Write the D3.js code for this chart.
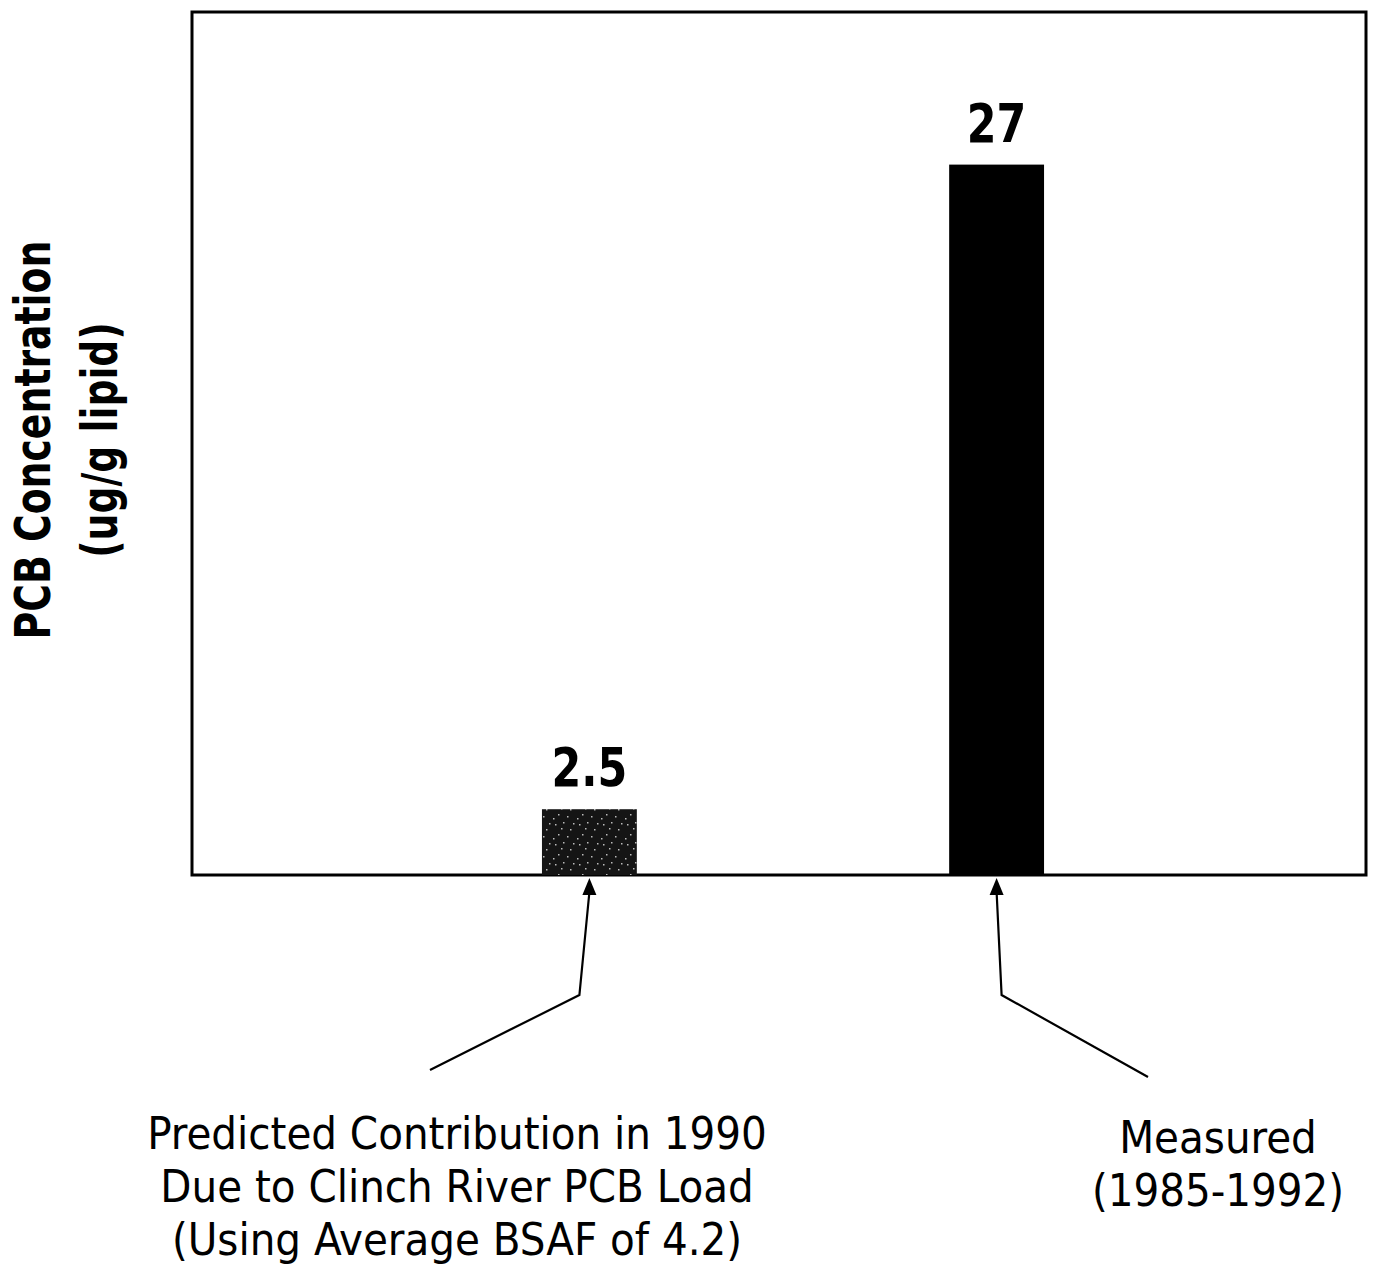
<!DOCTYPE html>
<html>
<head>
<meta charset="utf-8">
<script src="https://cdn.jsdelivr.net/npm/d3@7"></script>
<style>
  html, body { margin: 0; padding: 0; background: #fff; }
  svg { display: block; }
  .narrow { font-family: "Liberation Sans Narrow", "DejaVu Sans Condensed", "Arial Narrow", sans-serif; }
</style>
</head>
<body>
<svg id="chart" width="1381" height="1269"></svg>
<script>
// Chart data
const categories = ["Predicted", "Measured"];
const values = [2.5, 27];
const valueLabels = ["2.5", "27"];
const categoryLabels = [
  ["Predicted Contribution in 1990", "Due to Clinch River PCB Load", "(Using Average BSAF of 4.2)"],
  ["Measured", "(1985-1992)"]
];
const yTitle = ["PCB Concentration", "(ug/g lipid)"];
const barFills = ["url(#speckle)", "#000"];

const svg = d3.select("#chart");
const frame = { left: 192, top: 12, right: 1366, bottom: 875 };

// Speckled dark fill for the predicted bar
const defs = svg.append("defs");
const pat = defs.append("pattern")
  .attr("id", "speckle").attr("patternUnits", "userSpaceOnUse")
  .attr("width", 24).attr("height", 20);
pat.append("rect").attr("width", 24).attr("height", 20).attr("fill", "#151515");
[[3,4],[11,2],[18,9],[6,14],[15,16],[21,3],[9,8],[1,18]].forEach(([x, y]) =>
  pat.append("rect").attr("x", x).attr("y", y).attr("width", 1.5).attr("height", 1.5).attr("fill", "#bbb"));

const x = d3.scaleBand()
  .domain(categories)
  .range([386, 1200])
  .paddingInner(0.767)
  .paddingOuter(0.383);

const y = d3.scaleLinear()
  .domain([0, 32.8])
  .range([frame.bottom, frame.top]);

// Plot frame
svg.append("rect")
  .attr("x", frame.left).attr("y", frame.top)
  .attr("width", frame.right - frame.left)
  .attr("height", frame.bottom - frame.top)
  .attr("fill", "none").attr("stroke", "#000").attr("stroke-width", 3);

// Bars
svg.selectAll("rect.bar")
  .data(categories)
  .join("rect")
  .attr("class", "bar")
  .attr("x", d => x(d))
  .attr("width", x.bandwidth())
  .attr("y", (d, i) => y(values[i]))
  .attr("height", (d, i) => y(0) - y(values[i]))
  .attr("fill", (d, i) => barFills[i]);

// Value labels above the bars (condensed horizontally)
svg.selectAll("text.value")
  .data(categories)
  .join("text")
  .attr("class", "value narrow")
  .attr("transform", (d, i) =>
    `translate(${x(d) + x.bandwidth() / 2},${y(values[i]) - 23}) scale(0.88,1)`)
  .attr("text-anchor", "middle")
  .attr("font-weight", "bold")
  .attr("font-size", 54)
  .text((d, i) => valueLabels[i]);

// Y-axis title (rotated, two lines)
const yt = svg.append("text")
  .attr("class", "narrow")
  .attr("transform", "translate(50,440) rotate(-90) scale(0.84,1)")
  .attr("text-anchor", "middle")
  .attr("font-weight", "bold")
  .attr("font-size", 50);
yTitle.forEach((t, i) =>
  yt.append("tspan").attr("x", 0).attr("dy", i === 0 ? 0 : 67).text(t));

// Leader arrows from the bar bases to the category labels
const leaders = [
  { elbowDx: -10, endX: 430, endY: 1070 },
  { elbowDx: 5, endX: 1148, endY: 1077 }
];
const arrowTop = y(0) + 3;
const elbowY = 995;
categories.forEach((c, i) => {
  const cx = x(c) + x.bandwidth() / 2;
  const L = leaders[i];
  svg.append("path")
    .attr("d", d3.line()([[cx, arrowTop + 14], [cx + L.elbowDx, elbowY], [L.endX, L.endY]]))
    .attr("fill", "none").attr("stroke", "#000").attr("stroke-width", 2.2);
  svg.append("path")
    .attr("d", d3.line()([[cx, arrowTop], [cx - 7, arrowTop + 17], [cx + 7, arrowTop + 17]]) + "Z")
    .attr("fill", "#000");
});

// Category labels under the chart
const labelPos = [{ cx: 457, y0: 1149 }, { cx: 1218, y0: 1153 }];
categoryLabels.forEach((lines, i) => {
  const t = svg.append("text")
    .attr("class", "narrow")
    .attr("text-anchor", "middle")
    .attr("font-size", 45);
  lines.forEach((line, j) =>
    t.append("tspan")
      .attr("x", labelPos[i].cx)
      .attr("y", labelPos[i].y0 + j * 53)
      .text(line));
});
</script>
</body>
</html>
